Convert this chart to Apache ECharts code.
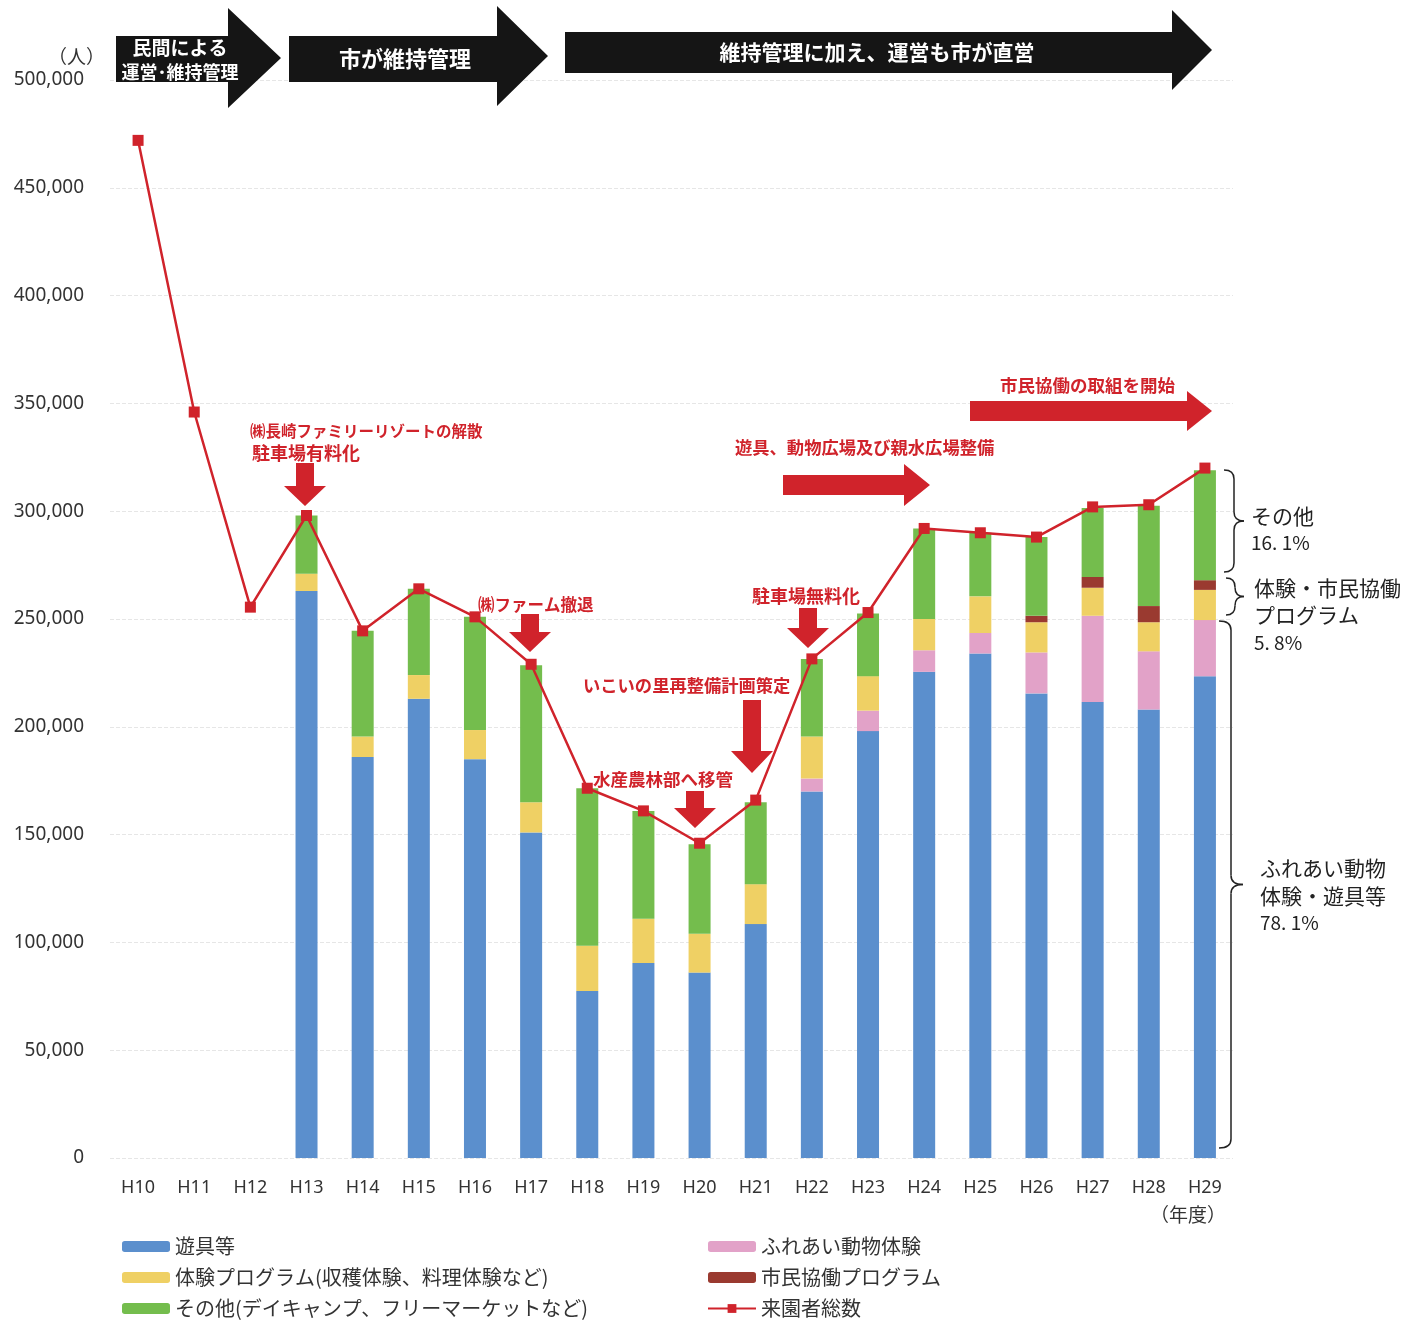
<!DOCTYPE html>
<html><head><meta charset="utf-8">
<script src="https://cdn.jsdelivr.net/npm/echarts@6/dist/echarts.min.js"></script>
<style>html,body{margin:0;padding:0;background:#fff}#c{width:1416px;height:1324px}</style>
</head><body><div id="c"></div>
<script>
const categories = ['H10','H11','H12','H13','H14','H15','H16','H17','H18','H19','H20','H21','H22','H23','H24','H25','H26','H27','H28','H29'];
const yuguValues    = [null,null,null,263000,186000,213000,185000,151000,77500,90500,86000,108500,170000,198000,225500,234000,215500,211500,208000,223500];
const fureaiValues  = [null,null,null,null,null,null,null,null,null,null,null,null,6000,9500,10000,9500,19000,40000,27000,26000];
const taikenValues  = [null,null,null,8000,9500,11000,13500,14000,21000,20500,18000,18500,19500,16000,14500,17000,14000,13000,13500,14000];
const kyodoValues   = [null,null,null,null,null,null,null,null,null,null,null,null,null,null,null,null,3000,5000,7500,4500];
const sonotaValues  = [null,null,null,27000,49000,40000,52500,63500,73000,50000,41500,38000,36000,29000,42000,29500,36500,32000,46500,51000];
const totalValues   = [472000,346000,255500,298000,244500,264000,251000,229000,171500,161000,146000,166000,231500,253000,292000,290000,288000,302000,303000,320000];

const JP = '"Noto Sans CJK JP", "Noto Sans", sans-serif';
const RED = '#d0232b';
const chart = echarts.init(document.getElementById('c'));

function downArrow(cx, top, bottom, bw, hw, hh){
  const hy = bottom - hh;
  return {type:'polygon', shape:{points:[[cx-bw/2,top],[cx+bw/2,top],[cx+bw/2,hy],[cx+hw/2,hy],[cx,bottom],[cx-hw/2,hy],[cx-bw/2,hy]]}, style:{fill:RED}, z:20};
}
function rightArrow(left, right, cy, bh, hh, hl){
  const hx = right - hl;
  return {type:'polygon', shape:{points:[[left,cy-bh/2],[hx,cy-bh/2],[hx,cy-hh/2],[right,cy],[hx,cy+hh/2],[hx,cy+bh/2],[left,cy+bh/2]]}, style:{fill:RED}, z:20};
}
function blackArrow(left, bodyTop, bodyBottom, headX, headTop, headBottom, tipX){
  const cy = (headTop+headBottom)/2;
  return {type:'polygon', shape:{points:[[left,bodyTop],[headX,bodyTop],[headX,headTop],[tipX,cy],[headX,headBottom],[headX,bodyBottom],[left,bodyBottom]]}, style:{fill:'#151515'}, z:20};
}
function redText(x, y, t, size){
  return {type:'text', x:x, y:y, style:{text:t, fill:RED, font:'bold '+(size||17)+'px '+JP, textVerticalAlign:'middle'}, z:21};
}
function whiteText(x, y, t, size){
  return {type:'text', x:x, y:y, style:{text:t, fill:'#fff', font:'bold '+size+'px '+JP, textAlign:'center', textVerticalAlign:'middle'}, z:21};
}
function brace(x, y1, y2, w){
  const m = (y1+y2)/2, r = 9, xm = x + w/2;
  const st = {fill:null, stroke:'#222', lineWidth:1.5};
  return [
    {type:'bezierCurve', shape:{x1:x, y1:y1, cpx1:xm, cpy1:y1, x2:xm, y2:y1+r}, style:st, z:20},
    {type:'line', shape:{x1:xm, y1:y1+r, x2:xm, y2:m-r}, style:st, z:20},
    {type:'bezierCurve', shape:{x1:xm, y1:m-r, cpx1:xm, cpy1:m, x2:x+w, y2:m}, style:st, z:20},
    {type:'bezierCurve', shape:{x1:x+w, y1:m, cpx1:xm, cpy1:m, x2:xm, y2:m+r}, style:st, z:20},
    {type:'line', shape:{x1:xm, y1:m+r, x2:xm, y2:y2-r}, style:st, z:20},
    {type:'bezierCurve', shape:{x1:xm, y1:y2-r, cpx1:xm, cpy1:y2, x2:x, y2:y2}, style:st, z:20}
  ];
}
function blackText(x, y, t, size){
  return {type:'text', x:x, y:y, style:{text:t, fill:'#222', font:size+'px '+JP, textVerticalAlign:'middle'}, z:21};
}

const legendCommon = {orient:'vertical', top:1236, height:88, padding:0, itemWidth:48, itemHeight:11, itemGap:10,
  textStyle:{fontSize:20, lineHeight:21, color:'#333', fontFamily:JP}};
const barCommon = {type:'bar', stack:'total', barWidth:22};
const option = {
  backgroundColor:'#fff',
  animation:false,
  grid:{left:110, right:183, top:80, bottom:166},
  xAxis:{type:'category', data:categories,
    axisLine:{show:false}, axisTick:{show:false},
    axisLabel:{color:'#333', fontSize:18, fontFamily:'"Noto Sans", sans-serif', margin:21}},
  yAxis:{type:'value', min:0, max:500000, interval:50000,
    axisLine:{show:false}, axisTick:{show:false},
    axisLabel:{color:'#333', fontSize:19, fontFamily:'"Noto Sans", sans-serif', margin:26,
      formatter:v=>v.toLocaleString('en-US')},
    splitLine:{lineStyle:{color:'#e6e6e6', type:'dashed', width:1}}},
  legend:[
    Object.assign({left:122, data:['遊具等','体験プログラム(収穫体験、料理体験など)','その他(デイキャンプ、フリーマーケットなど)']}, legendCommon),
    Object.assign({left:707, data:['ふれあい動物体験','市民協働プログラム','来園者総数']}, legendCommon)
  ],
  series:[
    Object.assign({name:'遊具等', data:yuguValues, itemStyle:{color:'#5b8fcd'}}, barCommon),
    Object.assign({name:'ふれあい動物体験', data:fureaiValues, itemStyle:{color:'#e2a2c8'}}, barCommon),
    Object.assign({name:'体験プログラム(収穫体験、料理体験など)', data:taikenValues, itemStyle:{color:'#efd064'}}, barCommon),
    Object.assign({name:'市民協働プログラム', data:kyodoValues, itemStyle:{color:'#9a3a30'}}, barCommon),
    Object.assign({name:'その他(デイキャンプ、フリーマーケットなど)', data:sonotaValues, itemStyle:{color:'#74bd4d'}}, barCommon),
    {name:'来園者総数', type:'line', data:totalValues, z:10,
     lineStyle:{color:RED, width:2.5}, itemStyle:{color:RED},
     symbol:'rect', symbolSize:11, showAllSymbol:true}
  ],
  graphic:[
    {type:'text', x:48, y:57, style:{text:'（人）', fill:'#333', font:'19px '+JP, textVerticalAlign:'middle'}},
    {type:'text', x:1150, y:1215, style:{text:'（年度）', fill:'#333', font:'19px '+JP, textVerticalAlign:'middle'}},
    blackArrow(116, 36, 82, 228, 8, 108, 281),
    whiteText(180, 48, '民間による', 19),
    whiteText(180, 72, '運営･維持管理', 18),
    blackArrow(289, 36, 82, 497, 6, 106, 548),
    whiteText(405, 59, '市が維持管理', 22),
    blackArrow(565, 32, 73, 1172, 10, 90, 1212),
    whiteText(877, 52, '維持管理に加え、運営も市が直営', 21),

    redText(250, 431, '㈱長崎ファミリーリゾートの解散', 15.5),
    redText(252, 453, '駐車場有料化', 18),
    downArrow(305, 463, 506, 18, 42, 20),
    redText(478, 605, '㈱ファーム撤退', 16.5),
    downArrow(530, 614, 652, 18, 42, 20),
    redText(583, 685, 'いこいの里再整備計画策定', 17.3),
    downArrow(752, 700, 773, 18, 42, 22),
    redText(593, 779, '水産農林部へ移管', 17.5),
    downArrow(695, 791, 828, 18, 42, 20),
    redText(752, 596, '駐車場無料化', 18),
    downArrow(808, 608, 648, 18, 42, 20),
    redText(735, 447, '遊具、動物広場及び親水広場整備', 17.3),
    rightArrow(783, 930, 485, 20, 42, 26),
    redText(1000, 385, '市民協働の取組を開始', 17.5),
    rightArrow(970, 1212, 411, 20, 40, 25),

    ...brace(1224, 470, 572, 20),
    blackText(1251, 516, 'その他', 21),
    blackText(1251, 543, '16. 1%', 19),
    ...brace(1226, 578, 615, 18),
    blackText(1254, 588, '体験・市民協働', 21),
    blackText(1254, 615, 'プログラム', 21),
    blackText(1254, 643, '5. 8%', 19),
    ...brace(1219, 621, 1148, 24),
    blackText(1260, 868, 'ふれあい動物', 21),
    blackText(1260, 896, '体験・遊具等', 21),
    blackText(1260, 923, '78. 1%', 19)
  ]
};
chart.setOption(option);
</script></body></html>
